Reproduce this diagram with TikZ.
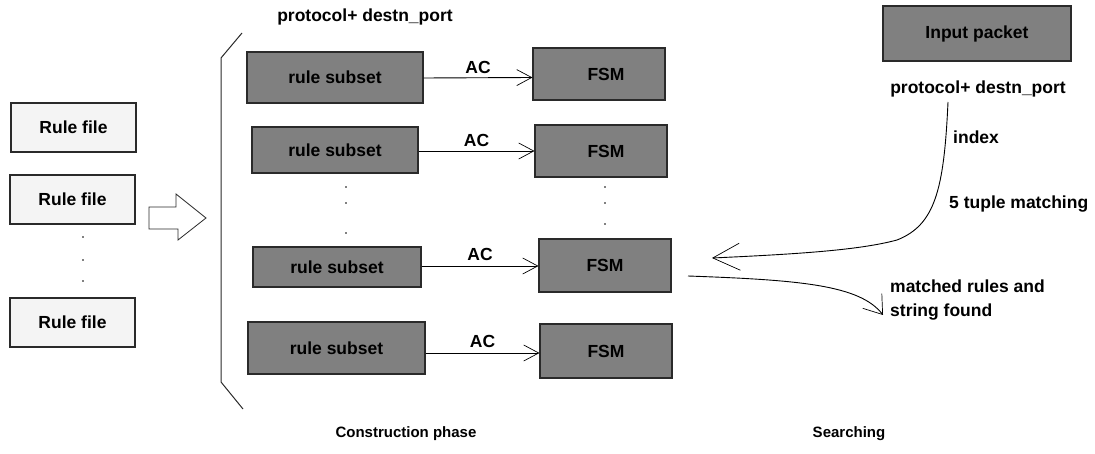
\documentclass[tikz,border=0pt]{standalone}
\usepackage{fontspec}
\setmainfont{Liberation Sans}
\usetikzlibrary{arrows.meta}

\definecolor{boxgray}{HTML}{808080}
\definecolor{filefill}{HTML}{F4F4F4}
\definecolor{edge}{HTML}{2A2A2A}

\begin{document}
\begin{tikzpicture}[x=1pt,y=-1pt,
  txt/.style={font=\bfseries\fontsize{17.5}{20}\selectfont, inner sep=0pt},
  smalltxt/.style={font=\bfseries\fontsize{15}{17}\selectfont, inner sep=0pt},
  filebox/.style={txt, draw=edge, fill=filefill, line width=1.1pt,
                  minimum width=125pt, minimum height=49pt},
  graybox/.style={txt, draw=edge, fill=boxgray, line width=1.1pt},
  acarrow/.style={draw=black, line width=0.9pt,
                  -{Straight Barb[length=15pt,width=16pt,line width=0.7pt]}},
  dotmark/.style={fill=black, draw=none},
]
\useasboundingbox (0,0) rectangle (1095,454);

% rule files
\node[filebox] (rf1) at (73.5,127.5) {Rule file};
\node[filebox] (rf2) at (72.5,199.5) {Rule file};
\node[filebox] (rf3) at (72.5,322.5) {Rule file};
\foreach \yy in {237,260,281} \fill[dotmark] (83,\yy) circle (0.8);

% hollow block arrow into the construction phase
\draw[edge, line width=0.8pt, fill=white]
  (149,207) -- (176,207) -- (176,194) -- (206,218) -- (178,240)
  -- (178,229) -- (149,229) -- cycle;

% bracket grouping the subsets
\draw[edge, line width=1pt] (242,33) -- (221,58) -- (221,382) -- (243,409);
\node[txt] (keytop) at (365,17) {protocol+ destn\_port};

% rule subsets and their automata
\node[graybox, minimum width=176pt, minimum height=51pt] (rs1) at (335,77.5) {rule subset};
\node[graybox, minimum width=132pt, minimum height=52pt] (fsm1) at (599,74) {\hspace*{14pt}FSM};
\node[graybox, minimum width=166pt, minimum height=46pt] (rs2) at (335,150) {rule subset};
\node[graybox, minimum width=132pt, minimum height=52pt] (fsm2) at (601,151) {\hspace*{10pt}FSM};
\node[graybox, minimum width=168pt, minimum height=40pt] (rs3) at (337,267) {rule subset};
\node[graybox, minimum width=132pt, minimum height=53pt] (fsm3) at (605,265.5) {FSM};
\node[graybox, minimum width=177pt, minimum height=52pt] (rs4) at (336.5,348) {rule subset};
\node[graybox, minimum width=132pt, minimum height=54pt] (fsm4) at (606,351) {FSM};

\draw[acarrow] ([yshift=-0.5pt]rs1.east) -- (rs1.east -| fsm1.west)
  node[txt, midway, above=4pt] {AC};
\draw[acarrow] ([yshift=-1pt]rs2.east) -- ([yshift=-1pt]rs2.east -| fsm2.west)
  node[txt, midway, above=4pt] {AC};
\draw[acarrow] ([yshift=1pt]rs3.east) -- ([yshift=1pt]rs3.east -| fsm3.west)
  node[txt, midway, above=5pt] {AC};
\draw[acarrow] ([yshift=-5pt]rs4.east) -- ([yshift=-5pt]rs4.east -| fsm4.west)
  node[txt, midway, above=5pt] {AC};

\foreach \yy in {187,203,233} \fill[dotmark] (346,\yy) circle (0.8);
\foreach \yy in {187,203,224} \fill[dotmark] (605,\yy) circle (0.8);

% searching side
\node[graybox, minimum width=188pt, minimum height=55pt] (pkt) at (977,33.5) {Input packet};
\node[txt] (keyright) at (978,89) {protocol+ destn\_port};
\node[txt, anchor=west] (idx) at (953,137) {index};
\node[txt, anchor=west] (tuple) at (949,204) {5 tuple matching};
\node[txt, anchor=west] (match1) at (890,286) {matched rules and};
\node[txt, anchor=west] (match2) at (890,312) {string found};

\coordinate (lookstart) at (948,102);
\coordinate (looktip) at (712,258);
\coordinate (outstart) at (688,276);
\coordinate (outtip) at (883,315);

\draw[line width=0.9pt, -{Straight Barb[length=27pt,width=27pt,line width=0.7pt]}]
  (lookstart) .. controls (944,190) and (935,225) .. (897,240)
  .. controls (860,250) and (800,254) .. (looktip);
\draw[line width=0.9pt, -{Straight Barb[length=17pt,width=24pt,line width=0.7pt]}]
  (outstart) .. controls (800,280) and (860,285) .. (outtip);

% phase captions
\node[smalltxt] (cphase) at (406,434) {Construction phase};
\node[smalltxt] (sphase) at (849,434) {Searching};
\end{tikzpicture}
\end{document}
